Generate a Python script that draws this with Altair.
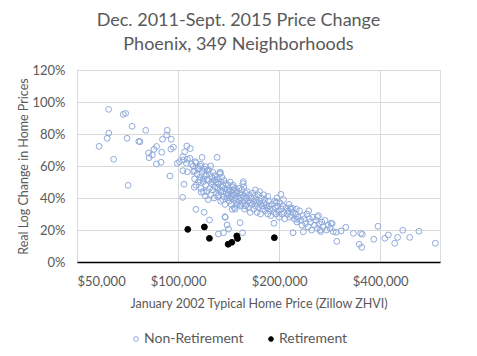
import altair as alt
import pandas as pd

# Non-retirement neighborhoods: January 2002 ZHVI (thousands of $) and real log change (%)
nr_price_k = [
    62.1, 58.2, 61.5, 62.2, 64.3, 68.7, 69.8, 70.5, 71.0, 73.0, 76.4, 80.1, 81.7, 82.0, 83.8, 84.8,
    86.3, 86.2, 89.0, 89.4, 89.9, 92.5, 92.9, 95.4, 95.2, 96.9, 94.6, 77.0,
    106.2, 108.8, 104.6, 103.3, 99.5, 101.0, 103.7, 106.6, 108.5, 105.9, 109.7, 112.6, 116.3, 117.9,
    120.7, 130.7, 103.4, 106.6, 111.2, 114.6, 119.0, 123.1, 104.2, 111.8, 116.3, 119.0, 121.8, 126.5,
    131.3, 133.8, 103.2, 117.3, 120.7, 131.3, 113.0, 119.6, 124.1, 131.9, 133.4, 128.6, 156.5, 138.2,
    145.0, 138.0, 140.0, 141.4, 136.6, 153.0, 193.0, 202.5, 196.3, 215.7, 260.0, 285.5, 296.0, 297.0,
    306.0, 316.0, 333.0, 346.5, 352.5, 350.0, 354.0, 383.0, 394.0, 413.0, 423.0, 442.0, 451.0, 467.0,
    490.0, 522.0, 584.0, 155.6, 226.0, 220.0, 236.0, 265.0, 219.0,
    # dense band
    111, 112, 112, 113, 113, 114, 115, 115, 116, 117, 117, 118, 119, 119, 120,
    121, 121, 122, 122, 123, 124, 124, 125, 125, 126, 126, 127, 127, 128, 128, 129, 129, 130, 130, 123,
    131, 131, 132, 132, 133, 133, 134, 134, 135, 135, 136, 136, 137, 137, 138, 138, 139, 139, 140, 140, 134, 136,
    141, 141, 142, 142, 143, 143, 144, 144, 145, 145, 146, 146, 147, 147, 148, 148, 149, 149, 150, 150, 143, 146, 148,
    151, 152, 152, 153, 154, 154, 155, 155, 156, 157, 157, 158, 158, 159, 160, 160, 161, 162, 162, 163, 164, 164, 156, 159, 153,
    165, 166, 167, 168, 168, 169, 170, 171, 172, 172, 173, 174, 175, 176, 176, 177, 178, 179, 180, 181, 182, 183,
    184, 185, 186, 187, 188, 189, 170, 175, 180, 185,
    191, 192, 193, 194, 195, 196, 198, 199, 200, 201, 203, 204, 205, 207, 208, 210, 212, 213, 215, 217, 218, 220,
    197, 206, 214,
    222, 224, 226, 228, 230, 232, 234, 236, 238, 240, 242, 244, 246, 248, 250, 252, 255, 258, 260, 263, 266, 268,
    271, 274, 277, 280, 284, 288, 225, 245, 262, 290,
]
nr_change = [
    95.4, 72.3, 77.3, 80.6, 64.2, 92.3, 92.9, 77.3, 47.9, 84.8, 75.4, 82.3, 68.1, 65.2, 66.9, 70.4,
    72.2, 61.3, 62.3, 68.6, 76.7, 79.4, 82.3, 76.7, 70.6, 71.7, 53.75, 75.2,
    72.5, 70.9, 68.9, 65.8, 61.7, 62.7, 63.75, 64.2, 64.8, 61.7, 61.1, 62.7, 60.0, 65.4,
    59.6, 65.4, 57.1, 56.4, 56.4, 57.9, 57.1, 57.5, 48.6, 46.7, 51.25, 50.2, 51.7, 50.2,
    48.75, 55.8, 40.4, 43.6, 41.25, 40.8, 32.9, 31.1, 26.25, 17.5, 56.1, 51.4, 50.2, 27.9,
    32.9, 28.3, 23.1, 20.6, 18.3, 24.6, 24.2, 42.3, 37.3, 33.9, 28.3, 24.2, 18.6, 12.9,
    19.4, 21.7, 17.9, 11.1, 9.2, 17.9, 17.3, 14.2, 22.3, 14.8, 16.9, 11.7, 15.4, 19.8,
    15.4, 19.2, 11.7, 18.3, 26.7, 18.3, 18.9, 20.0, 33.6,
    60, 57, 52, 62, 48, 55, 59, 50, 53, 61, 46, 56, 52, 44, 58,
    54, 48, 57, 44, 51, 55, 46, 60, 42, 53, 49, 56, 45, 51, 40, 54, 47, 50, 43, 39,
    52, 46, 49, 42, 55, 45, 50, 38, 47, 53, 44, 48, 41, 51, 46, 36, 49, 43, 45, 40, 44, 39,
    48, 42, 45, 38, 50, 44, 41, 36, 47, 43, 39, 45, 42, 34, 46, 40, 38, 43, 44, 36, 40, 48, 33,
    41, 46, 38, 43, 40, 35, 45, 42, 37, 41, 47, 39, 33, 43, 40, 36, 44, 38, 34, 42, 37, 31, 49, 35, 36,
    40, 36, 43, 38, 33, 41, 35, 39, 37, 31, 42, 34, 38, 36, 30, 40, 35, 33, 37, 39, 32, 36,
    34, 30, 38, 35, 33, 29, 45, 44, 42, 41,
    36, 33, 31, 38, 34, 30, 35, 32, 28, 37, 33, 30, 35, 31, 27, 34, 30, 32, 28, 33, 29, 31,
    40, 39, 36,
    27, 30, 25, 28, 32, 26, 23, 29, 27, 24, 30, 22, 27, 25, 20, 28, 23, 26, 21, 24, 19, 25,
    22, 26, 20, 23, 21, 24, 33, 32, 29, 19,
]

# Retirement neighborhoods
ret_price_k = [106.9, 119.8, 124.0, 141.0, 144.6, 149.6, 150.4, 193.6]
ret_change = [20.4, 21.9, 14.8, 11.1, 12.3, 16.3, 14.7, 15.2]

groups = ["Non-Retirement", "Retirement"]
x_ticks = [50000, 100000, 200000, 400000]
y_ticks = [0, 20, 40, 60, 80, 100, 120]

df = pd.DataFrame({
    "price": [v * 1000 for v in nr_price_k] + [v * 1000 for v in ret_price_k],
    "change": nr_change + ret_change,
    "group": [groups[0]] * len(nr_price_k) + [groups[1]] * len(ret_price_k),
    "ord": [0] * len(nr_price_k) + [1] * len(ret_price_k),
})

FONT = "Lato"
GREY = "#595959"
GRID = "#d9d9d9"

legend = alt.Legend(
    title=None, orient="none", legendX=52, legendY=262, direction="horizontal",
    columns=2, labelFont=FONT, labelFontSize=14, labelColor=GREY, symbolSize=22,
    symbolStrokeWidth=1, labelOffset=1, columnPadding=20, padding=0,
)

chart = alt.Chart(df).mark_point(filled=False, size=34, strokeWidth=1, opacity=1).encode(
    x=alt.X("price:Q",
            scale=alt.Scale(type="log", base=2, domain=[50000, 603000], nice=False, zero=False),
            axis=alt.Axis(values=x_ticks, format="$,.0f",
                          title="January 2002 Typical Home Price (Zillow ZHVI)",
                          grid=True, gridColor=GRID, domainColor="black", domainWidth=1.5,
                          ticks=False, labelPadding=13, titlePadding=9,
                          labelFont=FONT, labelFontSize=13, labelColor=GREY,
                          titleFont=FONT, titleFontSize=12.5, titleFontWeight="normal",
                          titleColor=GREY)),
    y=alt.Y("change:Q",
            scale=alt.Scale(domain=[0, 120], nice=False),
            axis=alt.Axis(values=y_ticks, labelExpr="datum.value + '%'",
                          title="Real Log Change in Home Prices",
                          grid=True, gridColor=GRID, domain=False, ticks=False,
                          labelPadding=12, titlePadding=1,
                          labelFont=FONT, labelFontSize=13, labelColor=GREY,
                          titleFont=FONT, titleFontSize=12.5, titleFontWeight="normal",
                          titleColor=GREY)),
    color=alt.Color("group:N", scale=alt.Scale(domain=groups, range=["#8FAADC", "#000000"]),
                    legend=legend),
    fill=alt.Fill("group:N", scale=alt.Scale(domain=groups, range=["transparent", "#000000"]),
                  legend=legend),
    order=alt.Order("ord:Q"),
).properties(
    width=363,
    height=192,
    autosize=alt.AutoSizeParams(type="none"),
    padding={"left": 77, "top": 70, "right": 37, "bottom": 94},
    title=alt.Title(
        ["Dec. 2011-Sept. 2015 Price Change", "Phoenix, 349 Neighborhoods"],
        font=FONT, fontSize=18, fontWeight="normal", color=GREY, anchor="middle",
        dx=-20, offset=10, lineHeight=24,
    ),
).configure_view(stroke=None).configure(background="white")

chart.save("out.html", embed_options={"renderer": "svg", "actions": False})
